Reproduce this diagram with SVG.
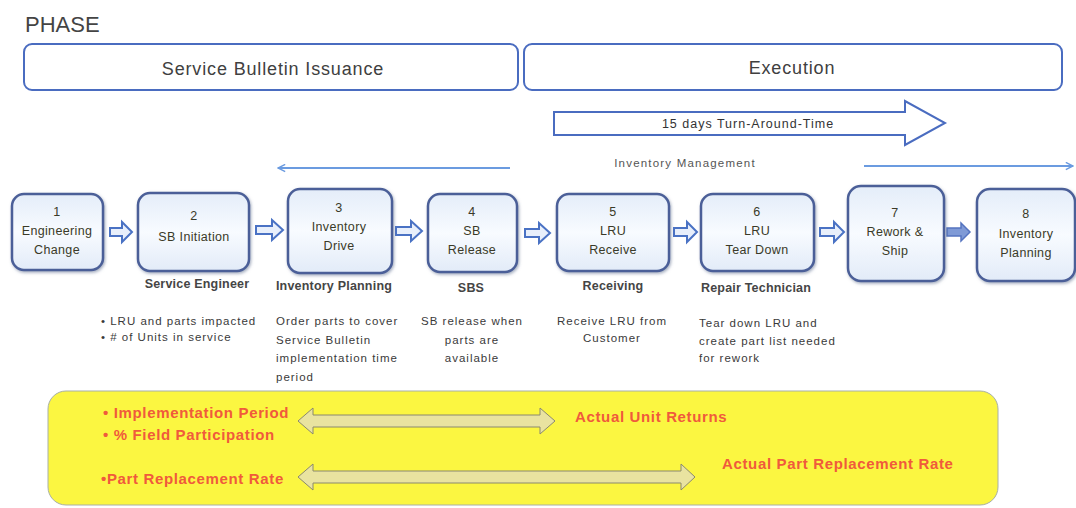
<svg xmlns="http://www.w3.org/2000/svg" width="1076" height="508" viewBox="0 0 1076 508">
  <defs>
    <linearGradient id="nodeFill" x1="0" y1="0" x2="0" y2="1">
      <stop offset="0" stop-color="#e4edf9"/>
      <stop offset="0.5" stop-color="#f8fbff"/>
      <stop offset="1" stop-color="#e2ebf8"/>
    </linearGradient>
    <filter id="shadow" x="-10%" y="-10%" width="125%" height="125%">
      <feDropShadow dx="1" dy="1.5" stdDeviation="1.5" flood-color="#5a6a8a" flood-opacity="0.55"/>
    </filter>
    <marker id="lineHead" viewBox="0 0 10 10" refX="9" refY="5" markerWidth="9" markerHeight="9" orient="auto-start-reverse" markerUnits="userSpaceOnUse">
      <path d="M1,1 L9,5 L1,9" fill="none" stroke="#6b9be0" stroke-width="1.6"/>
    </marker>
    <style>
      text { font-family: "Liberation Sans", Arial, sans-serif; }
      .phase { fill: #fff; stroke: #4a6cc0; stroke-width: 2; }
      .phaseText { font-size: 18px; letter-spacing: 0.85px; fill: #404040; text-anchor: middle; }
      .node rect { fill: url(#nodeFill); stroke: #4b5f98; stroke-width: 2.5; filter: url(#shadow); }
      .nodeText { font-size: 12.5px; letter-spacing: 0.35px; fill: #3a3a28; text-anchor: middle; }
      .role { font-size: 12.5px; font-weight: bold; fill: #454545; text-anchor: middle; letter-spacing: 0.2px; }
      .desc { font-size: 11.5px; letter-spacing: 1px; fill: #3a3a3a; }
      .step { fill: #e8effb; stroke: #4a72c4; stroke-width: 2; }
      .stepSolid { fill: #7f9ad6; stroke: #5574c0; stroke-width: 1.5; }
      .flowLine { stroke: #6b9be0; stroke-width: 2; fill: none; }
      .metric { font-size: 15px; letter-spacing: 0.65px; font-weight: bold; fill: #f05a3c; }
      .dbl { fill: #e9e3a0; stroke: #8a8870; stroke-width: 1; }
    </style>
  </defs>

  <rect width="1076" height="508" fill="#fff"/>

  <!-- Phase header -->
  <text x="25" y="32" font-size="22" fill="#444">PHASE</text>
  <g id="phase-issuance">
    <rect class="phase" x="24" y="44" width="494" height="46" rx="8"/>
    <text class="phaseText" x="273" y="75">Service Bulletin Issuance</text>
  </g>
  <g id="phase-execution">
    <rect class="phase" x="524" y="44" width="538" height="46" rx="8"/>
    <text class="phaseText" x="792" y="74">Execution</text>
  </g>

  <!-- Turn-around-time block arrow -->
  <g id="tat">
    <path d="M554,112 H905 V101 L945,123 L905,145 V135 H554 Z" fill="#fff" stroke="#4a6cc0" stroke-width="2"/>
    <text x="748" y="128" font-size="12.5" letter-spacing="1" fill="#333" text-anchor="middle">15 days Turn-Around-Time</text>
  </g>

  <!-- Inventory management label -->
  <text x="685" y="167" font-size="11.5" letter-spacing="1.2" fill="#555" text-anchor="middle">Inventory  Management</text>

  <!-- Connectors -->
  <g id="connectors">
    <line class="flowLine" x1="510" y1="168" x2="278" y2="168" marker-end="url(#lineHead)"/>
    <line class="flowLine" x1="864" y1="166" x2="1073" y2="166" marker-end="url(#lineHead)"/>
    <path class="step" d="M110,228 h12 v-6 l10,10 l-10,10 v-6 h-12 z"/>
    <path class="step" d="M256,226 h16 v-6 l11,10 l-11,10 v-6 h-16 z"/>
    <path class="step" d="M396,227 h15 v-6 l11,10 l-11,10 v-6 h-15 z"/>
    <path class="step" d="M525,229 h14 v-6 l11,10 l-11,10 v-6 h-14 z"/>
    <path class="step" d="M674,228 h13 v-6 l10,10 l-10,10 v-6 h-13 z"/>
    <path class="step" d="M820,228 h14 v-6 l10,10 l-10,10 v-6 h-14 z"/>
    <path class="stepSolid" d="M947,228 h14 v-5 l9,9 l-9,9 v-5 h-14 z"/>
  </g>

  <!-- Process steps -->
  <g id="node1" class="node">
    <rect x="12" y="194" width="91" height="76" rx="12"/>
    <text class="nodeText" x="57" y="216">1</text>
    <text class="nodeText" x="57" y="235">Engineering</text>
    <text class="nodeText" x="57" y="254">Change</text>
  </g>
  <g id="node2" class="node">
    <rect x="138" y="193" width="111" height="78" rx="12"/>
    <text class="nodeText" x="194" y="220">2</text>
    <text class="nodeText" x="194" y="241">SB Initiation</text>
  </g>
  <g id="node3" class="node">
    <rect x="288" y="189" width="104" height="84" rx="12"/>
    <text class="nodeText" x="339" y="212">3</text>
    <text class="nodeText" x="339" y="231">Inventory</text>
    <text class="nodeText" x="339" y="250">Drive</text>
  </g>
  <g id="node4" class="node">
    <rect x="428" y="194" width="89" height="78" rx="12"/>
    <text class="nodeText" x="472" y="216">4</text>
    <text class="nodeText" x="472" y="235">SB</text>
    <text class="nodeText" x="472" y="254">Release</text>
  </g>
  <g id="node5" class="node">
    <rect x="557" y="194" width="112" height="77" rx="12"/>
    <text class="nodeText" x="613" y="216">5</text>
    <text class="nodeText" x="613" y="235">LRU</text>
    <text class="nodeText" x="613" y="254">Receive</text>
  </g>
  <g id="node6" class="node">
    <rect x="701" y="194" width="113" height="77" rx="12"/>
    <text class="nodeText" x="757" y="216">6</text>
    <text class="nodeText" x="757" y="235">LRU</text>
    <text class="nodeText" x="757" y="254">Tear  Down</text>
  </g>
  <g id="node7" class="node">
    <rect x="848" y="186" width="96" height="95" rx="13"/>
    <text class="nodeText" x="895" y="217">7</text>
    <text class="nodeText" x="895" y="236">Rework  &amp;</text>
    <text class="nodeText" x="895" y="255">Ship</text>
  </g>
  <g id="node8" class="node">
    <rect x="977" y="189" width="98" height="92" rx="13"/>
    <text class="nodeText" x="1026" y="218">8</text>
    <text class="nodeText" x="1026" y="238">Inventory</text>
    <text class="nodeText" x="1026" y="257">Planning</text>
  </g>

  <!-- Roles -->
  <text class="role" x="197" y="288">Service  Engineer</text>
  <text class="role" x="334" y="290">Inventory  Planning</text>
  <text class="role" x="471" y="292">SBS</text>
  <text class="role" x="613" y="290">Receiving</text>
  <text class="role" x="756" y="292">Repair Technician</text>

  <!-- Descriptions -->
  <text class="desc" x="101" y="325">• LRU and parts  impacted</text>
  <text class="desc" x="101" y="341">•  # of Units in service</text>
  <text class="desc" x="276" y="325">Order parts to cover</text>
  <text class="desc" x="276" y="344">Service  Bulletin</text>
  <text class="desc" x="276" y="362">implementation  time</text>
  <text class="desc" x="276" y="381">period</text>
  <text class="desc" x="472" y="325" text-anchor="middle">SB release  when</text>
  <text class="desc" x="472" y="344" text-anchor="middle">parts are</text>
  <text class="desc" x="472" y="362" text-anchor="middle">available</text>
  <text class="desc" x="612" y="325" text-anchor="middle">Receive  LRU from</text>
  <text class="desc" x="612" y="342" text-anchor="middle">Customer</text>
  <text class="desc" x="699" y="327">Tear  down LRU and</text>
  <text class="desc" x="699" y="345">create  part  list needed</text>
  <text class="desc" x="699" y="362">for rework</text>

  <!-- Forecast vs actual panel -->
  <g id="metrics">
    <rect x="48" y="391" width="950" height="114" rx="18" fill="#fbf641" stroke="#a8b0a8" stroke-width="1"/>
    <text class="metric" x="103" y="418">• Implementation Period</text>
    <text class="metric" x="103" y="440">• % Field Participation</text>
    <text class="metric" x="101" y="484">•Part Replacement Rate</text>
    <path class="dbl" d="M298,421 L313,408 V415 H540 V408 L555,421 L540,434 V427 H313 V434 Z"/>
    <path class="dbl" d="M298,477 L313,464 V471 H681 V464 L695,477 L681,490 V483 H313 V490 Z"/>
    <text class="metric" x="575" y="422">Actual Unit Returns</text>
    <text class="metric" x="722" y="469">Actual Part Replacement Rate</text>
  </g>
</svg>
